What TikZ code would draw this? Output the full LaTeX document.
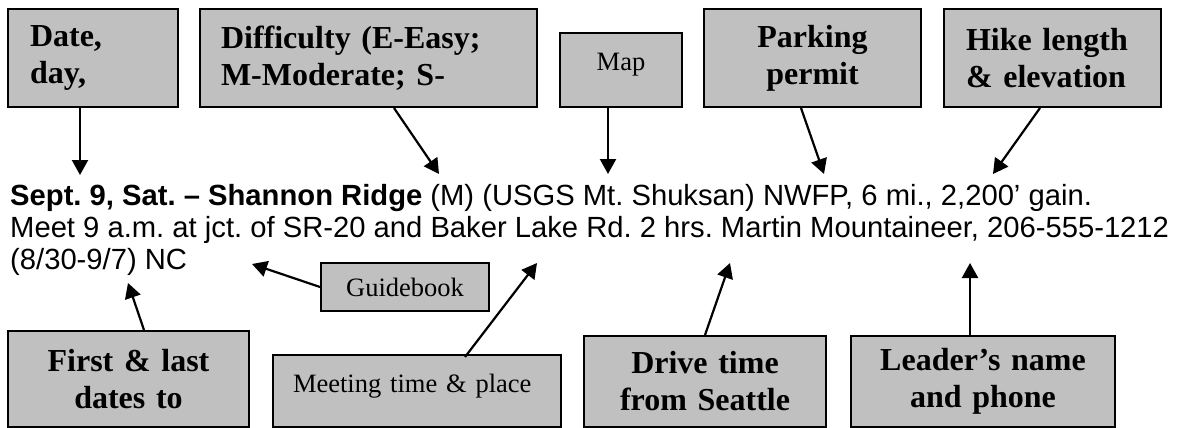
\documentclass[tikz,border=0pt]{standalone}
\usepackage{fontspec}
\setmainfont{Liberation Serif}
\newfontfamily\entryfont{Liberation Sans}
\usetikzlibrary{arrows.meta}
\definecolor{boxgray}{RGB}{192,192,192}
\frenchspacing
\tikzset{
  callout/.style={draw=black, fill=boxgray, line width=2pt, anchor=north west, inner ysep=0pt},
  boldtext/.style={font=\fontsize{32}{37}\selectfont\bfseries},
  plaintext/.style={font=\fontsize{26.5}{30}\selectfont},
  entry/.style={anchor=base west, inner sep=0pt, font=\entryfont\fontsize{29.2}{32}\selectfont},
  pointer/.style={-{Triangle[length=15pt,width=16pt]}, line width=2.2pt},
}
\begin{document}
\begin{tikzpicture}[x=1pt,y=-1pt]
\useasboundingbox (0,0) rectangle (1177,428);
% top row
\node[callout,boldtext,align=left,inner xsep=22pt,text width=126pt,minimum height=98pt] (date) at (7,8) {Date,\\day,};
\node[callout,boldtext,align=left,inner xsep=21pt,text width=295pt,minimum height=98pt] (diff) at (199,8) {Difficulty (E-Easy;\\M-Moderate; S-};
\node[callout,plaintext,align=center,inner xsep=10pt,text width=102pt,minimum height=74pt,text height=18pt,text depth=16.5pt] (map) at (559,32) {Map};
\node[callout,boldtext,align=center,inner xsep=10pt,text width=197pt,minimum height=98pt] (park) at (703,8) {Parking\\permit};
\node[callout,boldtext,align=left,inner xsep=22pt,text width=173pt,minimum height=98pt] (hike) at (943,8) {Hike length\\\mbox{\& elevation}};
% the listing
\node[entry] (lineA) at (10,205) {\textbf{Sept. 9, Sat. – Shannon Ridge} (M) (USGS Mt. Shuksan) NWFP, 6 mi., 2,200’ gain.};
\node[entry] (lineB) at (10,237) {Meet 9 a.m. at jct. of SR-20 and Baker Lake Rd. 2 hrs. Martin Mountaineer, 206-555-1212};
\node[entry] (lineC) at (10,269) {(8/30-9/7) NC};
% bottom row
\node[callout,plaintext,align=center,inner xsep=10pt,text width=148pt,minimum height=48pt] (guide) at (320,262) {Guidebook};
\node[callout,boldtext,align=center,inner xsep=10pt,text width=221pt,minimum height=96pt] (first) at (7,330) {First \& last\\dates to};
\node[callout,plaintext,align=left,inner xsep=20pt,text width=248pt,minimum height=72pt,text height=18pt,text depth=14.5pt] (meet) at (272,354) {Meeting time \& place};
\node[callout,boldtext,align=center,inner xsep=10pt,text width=222pt,minimum height=91pt] (drive) at (583,335) {Drive time\\from Seattle};
\node[callout,boldtext,align=center,inner xsep=10pt,text width=244pt,minimum height=91pt] (leader) at (850,335) {Leader’s name\\and phone};
% arrow tips
\coordinate (tipDate) at (80,175);
\coordinate (tipDiff) at (439,174);
\coordinate (tipMap) at (608,174);
\coordinate (tipPark) at (824,174);
\coordinate (tipHike) at (993,174);
\coordinate (tipGuide) at (252,264);
\coordinate (tipFirst) at (128,283);
\coordinate (tipMeet) at (537,263);
\coordinate (tipDrive) at (730,263);
\coordinate (tipLeader) at (970,263);
\draw[pointer] (date.south -| tipDate) -- (tipDate);
\draw[pointer] ([xshift=25.5pt]diff.south) -- (tipDiff);
\draw[pointer] (map.south -| tipMap) -- (tipMap);
\draw[pointer] ([xshift=-11.5pt]park.south) -- (tipPark);
\draw[pointer] ([xshift=-12.5pt]hike.south) -- (tipHike);
\draw[pointer] (guide.west) -- (tipGuide);
\draw[pointer] ([xshift=15.5pt]first.north) -- (tipFirst);
\draw[pointer] ([xshift=48pt,yshift=-3pt]meet.north) -- (tipMeet);
\draw[pointer] (drive.north) -- (tipDrive);
\draw[pointer] (leader.north -| tipLeader) -- (tipLeader);
\end{tikzpicture}
\end{document}
